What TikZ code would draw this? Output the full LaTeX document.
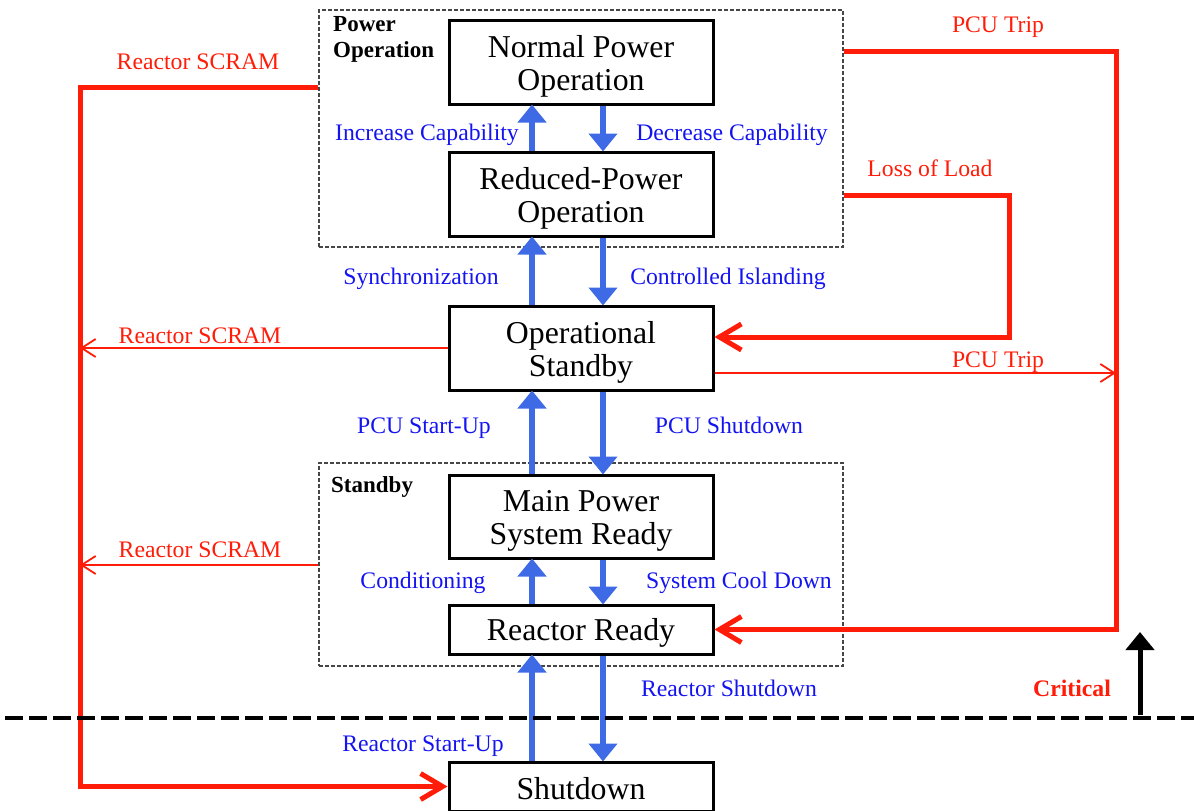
\documentclass[tikz,border=0pt]{standalone}
\usepackage{fontspec}
\setmainfont{Liberation Serif}
\usetikzlibrary{arrows.meta}
\definecolor{sred}{RGB}{255,28,8}
\definecolor{sblue}{RGB}{20,20,240}
\definecolor{ablue}{RGB}{62,106,230}
\definecolor{gline}{RGB}{70,70,70}
\newcommand\btext[2][5pt]{\raisebox{-#1}[\height][\depth]{\begin{tabular}{@{}c@{}}#2\end{tabular}}}
\begin{document}
\begin{tikzpicture}[x=1pt,y=-1pt,
  state/.style={draw, line width=3pt, minimum width=264pt,
    font=\fontsize{31.8}{33}\selectfont, inner sep=0pt},
  grp/.style={draw=gline, dash pattern=on 4pt off 2pt, line width=1.3pt,
    minimum width=524pt, inner sep=0pt},
  grplabel/.style={anchor=north west, align=left, inner sep=0pt,
    font=\fontsize{23}{26}\selectfont\bfseries},
  blab/.style={text=sblue, inner sep=0pt, anchor=base, font=\fontsize{23.7}{26}\selectfont},
  rlab/.style={text=sred, inner sep=0pt, anchor=base, font=\fontsize{23.7}{26}\selectfont},
  barrow/.style={draw=ablue, line width=6.5pt, -{Triangle[width=28pt,length=18pt]}, shorten >=-1pt},
  rthick/.style={draw=sred, line width=5pt, -{Straight Barb[length=22pt,width=26pt]}},
  rthin/.style={draw=sred, line width=1.8pt, -{Straight Barb[length=14pt,width=18pt]}}
]
\useasboundingbox (0,0) rectangle (1194,811);

% groups
\node[grp, minimum height=237pt] (pgrp) at (581,128.5) {};
\node[grp, minimum height=203pt] (sgrp) at (581,564.5) {};
\node[grplabel] (pgl) at (333,16) {Power\\Operation};
\node[grplabel] (sgl) at (331,476) {Standby};

% states
\node[state, minimum height=84pt] (npo) at (581,62) {\btext{Normal Power\\Operation}};
\node[state, minimum height=84pt] (rpo) at (581,194) {\btext{Reduced-Power\\Operation}};
\node[state, minimum height=84pt] (ops) at (581,348) {\btext{Operational\\Standby}};
\node[state, minimum height=83pt] (mps) at (581,516.5) {\btext{Main Power\\System Ready}};
\node[state, minimum height=49pt] (rr) at (581,629.5) {\btext[4pt]{Reactor Ready}};
\node[state, minimum height=49pt] (sd) at (581,786.5) {\btext[6.5pt]{Shutdown}};

% blue transitions
\draw[barrow] ([xshift=-49pt]rpo.north) -- ([xshift=-49pt]npo.south);
\draw[barrow] ([xshift=22pt]npo.south) -- ([xshift=22pt]rpo.north);
\draw[barrow] ([xshift=-49pt]ops.north) -- ([xshift=-49pt]rpo.south);
\draw[barrow] ([xshift=22pt]rpo.south) -- ([xshift=22pt]ops.north);
\draw[barrow] ([xshift=-49pt]mps.north) -- ([xshift=-49pt]ops.south);
\draw[barrow] ([xshift=22pt]ops.south) -- ([xshift=22pt]mps.north);
\draw[barrow] ([xshift=-49pt]rr.north) -- ([xshift=-49pt]mps.south);
\draw[barrow] ([xshift=22pt]mps.south) -- ([xshift=22pt]rr.north);
\draw[barrow] ([xshift=-49pt]sd.north) -- ([xshift=-49pt]rr.south);
\draw[barrow] ([xshift=22pt]rr.south) -- ([xshift=22pt]sd.north);

\node[blab] (l1) at (427,140) {Increase Capability};
\node[blab] (l2) at (732,140) {Decrease Capability};
\node[blab] (l3) at (421,284) {Synchronization};
\node[blab] (l4) at (728,284) {Controlled Islanding};
\node[blab] (l5) at (424,433) {PCU Start-Up};
\node[blab] (l6) at (729,433) {PCU Shutdown};
\node[blab] (l7) at (423,588) {Conditioning};
\node[blab] (l8) at (739,588) {System Cool Down};
\node[blab] (l9) at (729,696) {Reactor Shutdown};
\node[blab] (l10) at (423,751) {Reactor Start-Up};

% red bus coordinates
\coordinate (lbus) at (80,0);
\coordinate (rbus) at (1116,0);
\coordinate (lol) at (1009,0);

% red transitions
\draw[rthick] (pgrp.west |- 0,87) -| (lbus |- sd.west) -- (sd.west);
\draw[rthin] (ops.west) -- (lbus |- ops.west);
\draw[rthin] (sgrp.west |- 0,565) -- (lbus |- 0,565);
\draw[rthick] (pgrp.east |- 0,51) -| (rbus |- rr.east) -- (rr.east);
\draw[rthick] (pgrp.east |- 0,195) -| (lol |- 0,337) -- (ops.east |- 0,337);
\draw[rthin] (ops.east |- 0,373) -- (rbus |- 0,373);

\node[rlab] (s1) at (198,69) {Reactor SCRAM};
\node[rlab] (s2) at (200,343) {Reactor SCRAM};
\node[rlab] (s3) at (200,557) {Reactor SCRAM};
\node[rlab] (p1) at (998,32) {PCU Trip};
\node[rlab] (p2) at (998,367) {PCU Trip};
\node[rlab] (lo) at (930,176) {Loss of Load};

% critical line
\coordinate (cl) at (5,718);
\coordinate (cr) at (1194,718);
\draw[line width=4.5pt, dash pattern=on 18pt off 6pt] (cl) -- (cr);
\coordinate (ca) at (1140,715);
\coordinate (cb) at (1140,632);
\draw[line width=5pt, -{Triangle[width=28pt,length=18pt]}] (ca) -- (cb);
\node[rlab, font=\fontsize{23.7}{26}\selectfont\bfseries] (crit) at (1072,696) {Critical};
\end{tikzpicture}
\end{document}
